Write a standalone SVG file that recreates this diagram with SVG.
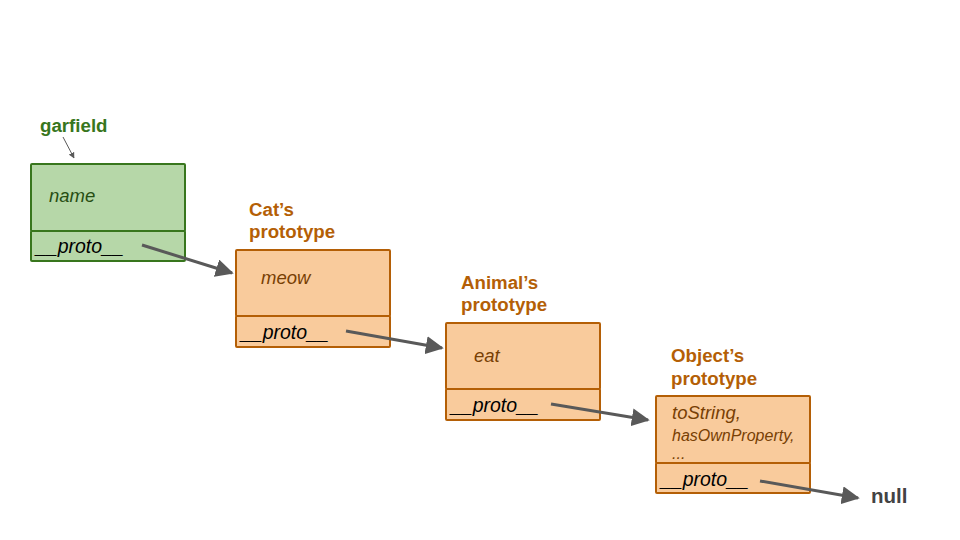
<svg xmlns="http://www.w3.org/2000/svg" width="960" height="540" viewBox="0 0 960 540">
<defs>
<style>
.g{fill:#b6d7a8;stroke:#38761d;stroke-width:2}
.o{fill:#f9cb9c;stroke:#b45f06;stroke-width:2}
.lbl{font-family:"Liberation Sans",Arial,sans-serif;font-weight:bold;font-size:18.7px}
.f{font-family:"Liberation Sans",Arial,sans-serif;font-style:italic;font-size:18.5px}
.p{font-family:"Liberation Sans",Arial,sans-serif;font-style:italic;font-size:19.5px;fill:#000}
.c{stroke:#595959;stroke-width:3;fill:none;marker-end:url(#ah)}
</style>
<marker id="ah" viewBox="0 0 10 10" refX="9" refY="5" markerWidth="6" markerHeight="6" orient="auto" markerUnits="strokeWidth">
<path d="M0,0 L10,5 L0,10 z" fill="#595959"/>
</marker>
<marker id="ah2" viewBox="0 0 10 10" refX="9" refY="5" markerWidth="6" markerHeight="6" orient="auto" markerUnits="strokeWidth">
<path d="M0,0 L10,5 L0,10 z" fill="#595959"/>
</marker>
</defs>
<rect width="960" height="540" fill="#fff"/>
<g id="garfield">
<text class="lbl" x="40" y="132" fill="#38761d">garfield</text>
<rect class="g" x="31" y="164" width="154" height="67" rx="1"/>
<rect class="g" x="31" y="231" width="154" height="30" rx="1"/>
<text class="f" x="49" y="202" fill="#274e13">name</text>
<text class="p" x="36" y="253">__proto__</text>
</g>
<g id="cat">
<text class="lbl" x="249" y="216" fill="#b45f06">Cat’s</text>
<text class="lbl" x="249" y="238" fill="#b45f06">prototype</text>
<rect class="o" x="236" y="250" width="154" height="66" rx="1"/>
<rect class="o" x="236" y="316" width="154" height="31" rx="1"/>
<text class="f" x="261" y="284" fill="#783f04">meow</text>
<text class="p" x="241" y="339">__proto__</text>
</g>
<g id="animal">
<text class="lbl" x="461" y="289" fill="#b45f06">Animal’s</text>
<text class="lbl" x="461" y="311" fill="#b45f06">prototype</text>
<rect class="o" x="446" y="323" width="154" height="66" rx="1"/>
<rect class="o" x="446" y="389" width="154" height="31" rx="1"/>
<text class="f" x="474" y="362" fill="#783f04">eat</text>
<text class="p" x="451" y="412">__proto__</text>
</g>
<g id="object">
<text class="lbl" x="671" y="362" fill="#b45f06">Object’s</text>
<text class="lbl" x="671" y="385" fill="#b45f06">prototype</text>
<rect class="o" x="656" y="396" width="154" height="67" rx="1"/>
<rect class="o" x="656" y="463" width="154" height="30" rx="1"/>
<text class="f" x="672" y="419" fill="#783f04">toString,</text>
<text class="f" x="672" y="441" fill="#783f04" style="font-size:16px">hasOwnProperty,</text>
<text class="f" x="672" y="459" fill="#783f04" style="font-size:16px">...</text>
<text class="p" x="661" y="486">__proto__</text>
</g>
<g id="null">
<text class="lbl" x="871" y="503" fill="#434343" style="font-size:20.5px">null</text>
</g>
<g id="connectors">
<line x1="63" y1="137" x2="74" y2="158" stroke="#595959" stroke-width="1" marker-end="url(#ah2)"/>
<line class="c" x1="142" y1="245" x2="232" y2="273"/>
<line class="c" x1="346" y1="331" x2="442" y2="348"/>
<line class="c" x1="551" y1="404" x2="648" y2="420"/>
<line class="c" x1="760" y1="481" x2="858" y2="498"/>
</g>
</svg>
